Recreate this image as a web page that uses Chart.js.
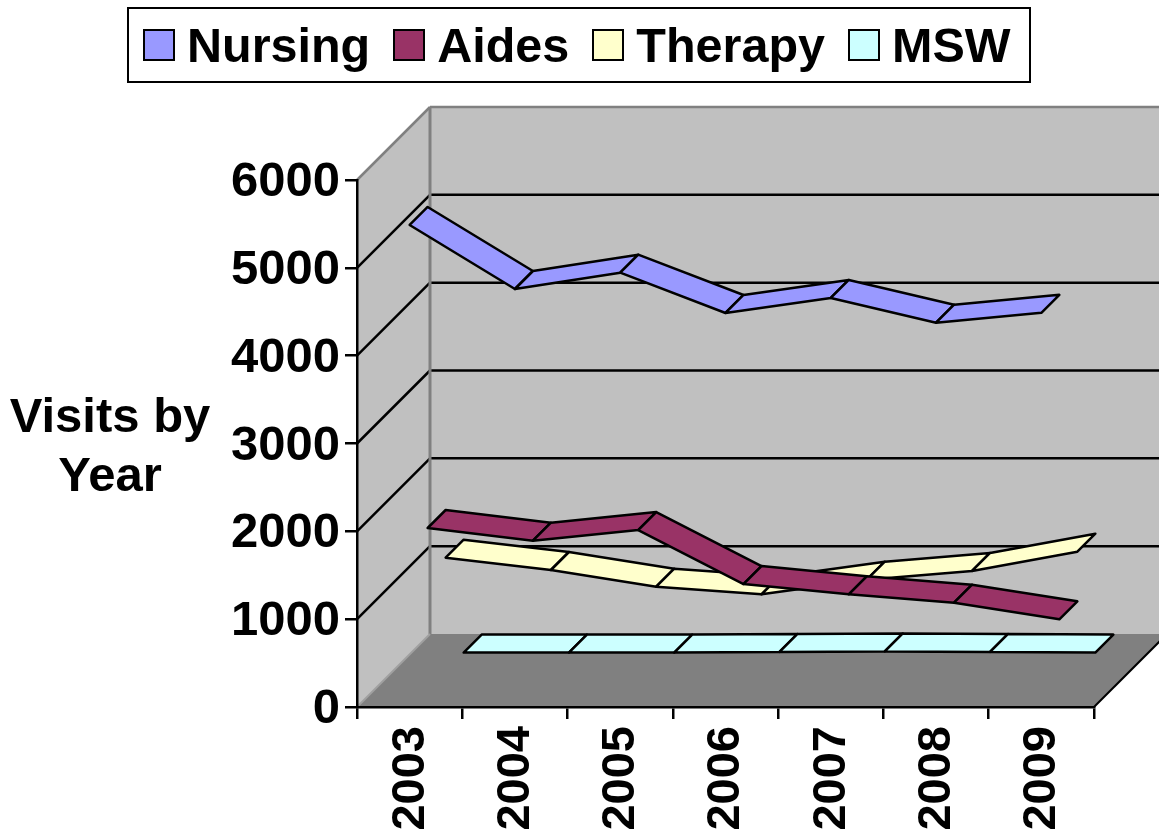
<!DOCTYPE html>
<html>
<head>
<meta charset="utf-8">
<title>Visits by Year</title>
<script src="https://cdn.jsdelivr.net/npm/chart.js@4"></script>
<style>
    body { margin: 0; background: #fff; font-family: "Liberation Sans", Arial, sans-serif; }
    #wrap { position: relative; width: 1159px; height: 836px; overflow: hidden; }
    canvas { position: absolute; left: 0; top: 0; }
    #legend {
        position: absolute; left: 127px; top: 7px; width: 900px; height: 72px;
        border: 2px solid #000; background: #fff; display: flex; align-items: center;
        padding-left: 0; font-weight: bold; font-size: 48.5px; color: #000;
    }
    .item { display: flex; align-items: center; margin-left: 23px; }
    .item:first-child { margin-left: 14px; }
    .swatch { width: 28px; height: 28px; border: 2.5px solid #000; margin-right: 12px; }
    #axisTitle {
        position: absolute; left: 0; top: 386px; width: 220px; text-align: center;
        font-weight: bold; font-size: 49px; line-height: 59px; color: #000;
    }
</style>
</head>
<body>
<div id="wrap">
    <canvas id="chart" width="1159" height="836"></canvas>
    <div id="legend"></div>
    <div id="axisTitle">Visits by<br>Year</div>
</div>
<script>
    // Chart data
    const years = ['2003', '2004', '2005', '2006', '2007', '2008', '2009'];
    const nursing = [5488, 4759, 4945, 4486, 4657, 4375, 4488];
    const aides = [1833, 1688, 1810, 1195, 1078, 983, 793];
    const therapy = [1290, 1150, 960, 873, 1040, 1139, 1358];
    const msw = [5, 5, 5, 12, 18, 12, 5];

    // Look of the fake 3D box
    const WALL_DEPTH = 73;
    const RIBBON_DEPTH = 18;
    const WALL_COLOR = '#C0C0C0';
    const FLOOR_COLOR = '#808080';

    function polygon(ctx, points) {
        ctx.beginPath();
        points.forEach((p, i) => i ? ctx.lineTo(p[0], p[1]) : ctx.moveTo(p[0], p[1]));
        ctx.closePath();
    }

    function line(ctx, x1, y1, x2, y2, color, width) {
        ctx.strokeStyle = color;
        ctx.lineWidth = width;
        ctx.beginPath();
        ctx.moveTo(x1, y1);
        ctx.lineTo(x2, y2);
        ctx.stroke();
    }

    // Walls, floor and gridlines go behind the axes
    const boxPlugin = {
        id: 'box',
        beforeDraw(chart) {
            const { ctx, chartArea: a, scales } = chart;
            const d = WALL_DEPTH;
            ctx.save();

            ctx.fillStyle = WALL_COLOR;
            ctx.fillRect(a.left + d, a.top - d, a.right - a.left, a.bottom - a.top);
            polygon(ctx, [[a.left, a.top], [a.left + d, a.top - d], [a.left + d, a.bottom - d], [a.left, a.bottom]]);
            ctx.fill();

            ctx.fillStyle = FLOOR_COLOR;
            polygon(ctx, [[a.left, a.bottom], [a.left + d, a.bottom - d], [a.right + d, a.bottom - d], [a.right, a.bottom]]);
            ctx.fill();

            scales.y.ticks.forEach(tick => {
                if (tick.value === 0 || tick.value === scales.y.max) return;
                const y = scales.y.getPixelForValue(tick.value);
                line(ctx, a.left, y, a.left + d, y - d, '#000', 2.5);
                line(ctx, a.left + d, y - d, a.right + d, y - d, '#000', 2.5);
            });

            line(ctx, a.left, a.top, a.left + d, a.top - d, FLOOR_COLOR, 2.5);
            line(ctx, a.left + d, a.top - d, a.right + d, a.top - d, FLOOR_COLOR, 2.5);
            line(ctx, a.left + d, a.top - d, a.left + d, a.bottom - d, FLOOR_COLOR, 3);
            line(ctx, a.left, a.bottom, a.left + d, a.bottom - d, '#A0A0A0', 2);
            line(ctx, a.right, a.bottom, a.right + d, a.bottom - d, '#000', 2);
            ctx.restore();
        },
        // Ribbons, furthest series first
        afterDatasetsDraw(chart) {
            const { ctx, scales } = chart;
            ctx.save();
            ctx.lineJoin = 'round';
            ctx.strokeStyle = '#000';
            ctx.lineWidth = 2.5;
            for (let s = chart.data.datasets.length - 1; s >= 0; s--) {
                const dataset = chart.data.datasets[s];
                const off = s * RIBBON_DEPTH;
                const at = i => [scales.x.getPixelForValue(i) + off, scales.y.getPixelForValue(dataset.data[i]) - off];
                ctx.fillStyle = dataset.backgroundColor;
                for (let i = 0; i < dataset.data.length - 1; i++) {
                    const p = at(i);
                    const q = at(i + 1);
                    polygon(ctx, [
                        p, q,
                        [q[0] + RIBBON_DEPTH, q[1] - RIBBON_DEPTH],
                        [p[0] + RIBBON_DEPTH, p[1] - RIBBON_DEPTH]
                    ]);
                    ctx.fill();
                    ctx.stroke();
                }
            }
            ctx.restore();
        }
    };

    // Legend is built from the datasets, so the spacing can follow the original
    const htmlLegendPlugin = {
        id: 'htmlLegend',
        afterInit(chart) {
            const legend = document.getElementById('legend');
            chart.data.datasets.forEach(dataset => {
                const item = document.createElement('div');
                item.className = 'item';
                const swatch = document.createElement('div');
                swatch.className = 'swatch';
                swatch.style.background = dataset.backgroundColor;
                const text = document.createElement('span');
                text.textContent = dataset.label;
                item.append(swatch, text);
                legend.appendChild(item);
            });
        }
    };

    function series(label, data, color) {
        return { label, data, backgroundColor: color, borderColor: '#000', showLine: false, pointRadius: 0 };
    }

    new Chart(document.getElementById('chart').getContext('2d'), {
        type: 'line',
        data: {
            labels: years,
            datasets: [
                series('Nursing', nursing, '#9999FF'),
                series('Aides', aides, '#993366'),
                series('Therapy', therapy, '#FFFFCC'),
                series('MSW', msw, '#CCFFFF')
            ]
        },
        options: {
            responsive: false,
            animation: false,
            layout: { padding: { top: 180, right: 65, left: 0, bottom: 0 } },
            plugins: { legend: { display: false }, tooltip: { enabled: false } },
            scales: {
                x: {
                    offset: true,
                    afterFit: scale => { scale.height = 129; },
                    grid: { offset: true, drawOnChartArea: false, color: '#000', lineWidth: 2.5, tickLength: 12 },
                    border: { color: '#000', width: 2.5 },
                    ticks: {
                        color: '#000',
                        font: { family: '"Liberation Sans"', size: 47, weight: 'bold' },
                        minRotation: 90,
                        maxRotation: 90,
                        autoSkip: false,
                        padding: 7,
                        labelOffset: 1
                    }
                },
                y: {
                    min: 0,
                    max: 6000,
                    afterFit: scale => { scale.width = 357; },
                    grid: { drawOnChartArea: false, color: '#000', lineWidth: 2.5, tickLength: 12 },
                    border: { color: '#000', width: 2.5 },
                    ticks: {
                        stepSize: 1000,
                        color: '#000',
                        font: { family: '"Liberation Sans"', size: 49, weight: 'bold' },
                        padding: 5,
                        labelOffset: 2.5,
                        callback: value => String(value)
                    }
                }
            }
        },
        plugins: [boxPlugin, htmlLegendPlugin]
    });
</script>
</body>
</html>
